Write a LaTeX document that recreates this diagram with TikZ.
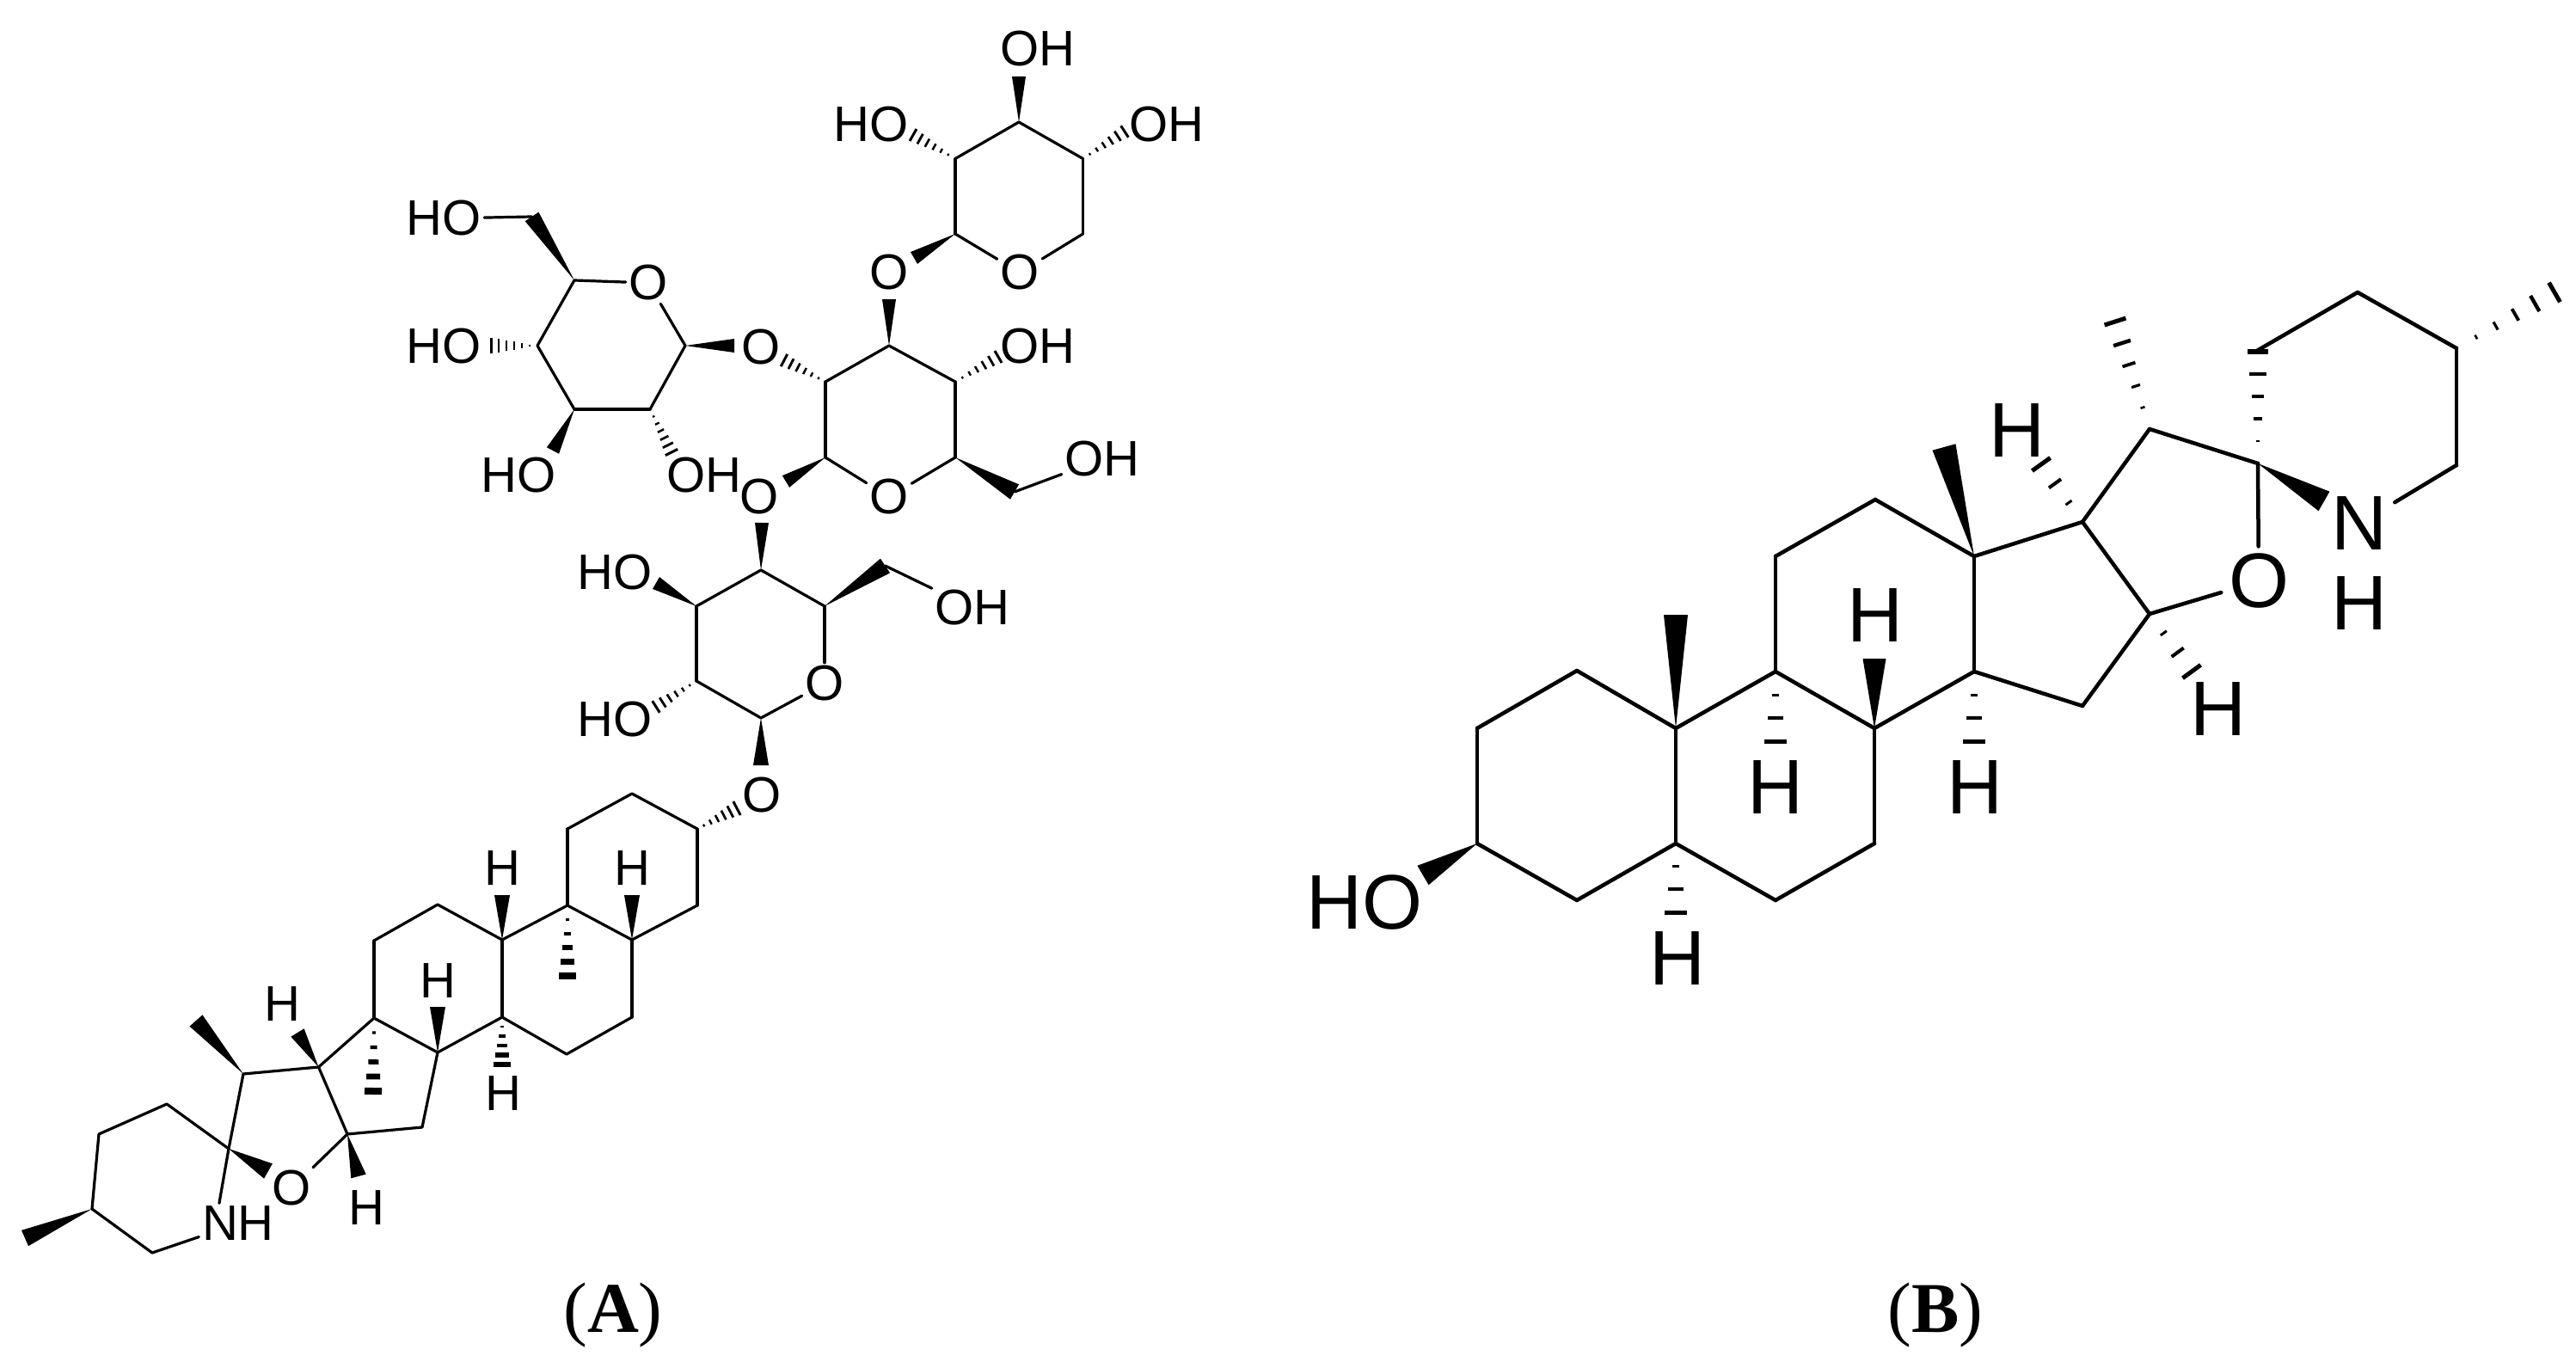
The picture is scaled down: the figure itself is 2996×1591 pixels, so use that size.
\documentclass[tikz,border=0pt]{standalone}
\usepackage{fontspec}
\setmainfont{Liberation Serif}
\newfontfamily\chemfont{Liberation Sans}
\usetikzlibrary{calc}

\begin{document}
\begin{tikzpicture}[
    x=0.01cm, y=-0.01cm,
    bondA/.style={draw=black, line width=0.032cm, line cap=round},
    bondB/.style={draw=black, line width=0.045cm, line cap=round},
    atomA/.style={font=\chemfont\fontsize{16.5}{18}\selectfont, inner sep=0.03cm},
    atomB/.style={font=\chemfont\fontsize{25.6}{28}\selectfont, inner sep=0.08cm},
    panel/.style={font=\fontsize{23.6}{26}\selectfont}
]

\fill[white] (0,0) rectangle (2996,1591);
\useasboundingbox (0,0) rectangle (2996,1591);

\foreach \nm/\x/\y in {
  xC1/1111/272, xC2/1111/184.5, xC3/1185/142, xC4/1259.5/184.5, xC5/1259.5/272,
  xE1/1185/89, xE2/1062/157, xE3/1308/153, xE4/1063/300,
  mC1/960/532, mC2/960/444, mC3/1034/402, mC4/1111/444, mC5/1111/532, mC6/1180/572,
  mE1/1034/348, mE2/912/419, mE3/1161/415, mE4/914/560,
  lC1/797/402, lC2/756/476, lC3/668/476, lC4/625/402, lC5/668/326, lC6/618.6/252,
  lE1/854/402, lE2/781/526, lE3/643/524, lE4/571/402,
  tC1/885/835, tC2/810/792, tC3/810/705, tC4/885/663, tC5/959/705, tC6/1029.5/658,
  tE1/885/890, tE2/763/822, tE3/763/678, tE4/886/608,
  aC1/660/964, aC2/735/923, aC3/811/964, aC4/811/1053, aC5/735/1093, aC6/735/1183,
  aC7/659/1226, aC8/584/1183, aC9/584/1093, aC10/660/1053, aC11/509/1052, aC12/435/1094,
  aC13/435/1184, aC14/509/1224, aC15/491/1311, aC16/404/1319, aC17/370.5/1241,
  aC20/283/1249, aC22/266/1336, aC23/194/1284, aC24/115/1319, aC25/107/1406, aC26/177/1457,
  aE1/857/940, aE2/735/1041, aE3/584/1041, aE4/660/1135, aE5/584/1238, aE6/434/1269,
  aE7/509/1171, aE8/346/1201, aE9/228/1187, aE10/312/1362, aE11/417/1368, aE12/29/1440,
  bC1/1834/780, bC2/1718/847, bC3/1718/981, bC4/1834/1047, bC5/1949/981, bC6/2065/1047,
  bC7/2180/981, bC8/2180/847, bC9/2065/781, bC10/1949/847, bC11/2065/647, bC12/2181/581,
  bC13/2296/647, bC14/2296/781, bC15/2422/821, bC16/2500/714, bC17/2422/607,
  bC20/2500/499, bC22/2626/539, bC23/2623/409, bC24/2742/340, bC25/2857/405, bC26/2857/541,
  bE1/1655/1018, bE2/1949/715, bE3/1949/1061, bE4/2065/862, bE5/2180/766, bE6/2296/862,
  bE7/2261/520, bE8/2374/540, bE9/2460/374, bE10/2626/409, bE11/2703/583, bE12/2549/781,
  bE13/2971/340}{
  \coordinate (\nm) at (\x,\y);
}

\foreach \nm/\x/\y/\lab in {
  xO/1186/317/O, xO2/1207/57/OH, xO3/1013/145/HO, xO4/1357/145/OH, xO1/1034/317/O,
  mO/1034/578/O, mO1/885/404/O, mO2/1207/403/OH, mO3/883/578/O, mO4/1282/534/OH,
  lO/754/329/O, lO1/516/254/HO, lO2/516/403/HO, lO3/603/553/HO, lO4/819/553/OH,
  tO/959/795/O, tO1/1131/707/OH, tO2/715/666/HO, tO3/715/837/HO, tO4/886/925/O,
  aH5/735/1010/H, aH9/584/1010/H, aH14/509/1141/H, aH8/585/1272/H, aH17/328/1168/H,
  aH16/426/1405/H, aO/339/1382/O, aNH/277/1423/NH}{
  \node[atomA] (\nm) at (\x,\y) {\lab};
}

\foreach \nm/\x/\y/\lab in {
  bHO/1587/1050/HO, bH5/1951/1115/H, bH9/2065/916/H, bH8/2181/716/H, bH14/2297/916/H,
  bH17/2346/501/H, bH16/2580/825/H, bO/2627/676/O, bN/2744/609/N, bNH/2744/702/H}{
  \node[atomB] (\nm) at (\x,\y) {\lab};
}

\foreach \ca/\cb in {
  xC1/xC2, xC2/xC3, xC3/xC4, xC4/xC5, xC5/xO, xC1/xO,
  mC1/mC2, mC2/mC3, mC3/mC4, mC4/mC5, mC5/mO, mC1/mO, mC6/mO4,
  lC1/lC2, lC2/lC3, lC3/lC4, lC4/lC5, lC5/lO, lC1/lO, lC6/lO1,
  tC1/tC2, tC2/tC3, tC3/tC4, tC4/tC5, tC5/tO, tC1/tO, tC6/tO1,
  aC1/aC2, aC2/aC3, aC3/aC4, aC4/aC5, aC5/aC10, aC10/aC1, aC5/aC6, aC6/aC7, aC7/aC8,
  aC8/aC9, aC9/aC10, aC9/aC11, aC11/aC12, aC12/aC13, aC13/aC14, aC14/aC8, aC13/aC17,
  aC17/aC16, aC16/aC15, aC15/aC14, aC17/aC20, aC20/aC22, aC22/aC23, aC23/aC24,
  aC24/aC25, aC25/aC26, aC26/aNH, aC22/aNH.133, aC16/aO}{
  \draw[bondA] (\ca) -- (\cb);
}

\foreach \ca/\cb in {
  bC1/bC2, bC2/bC3, bC3/bC4, bC4/bC5, bC5/bC10, bC10/bC1, bC5/bC6, bC6/bC7, bC7/bC8,
  bC8/bC9, bC9/bC10, bC9/bC11, bC11/bC12, bC12/bC13, bC13/bC14, bC14/bC8, bC13/bC17,
  bC17/bC16, bC16/bC15, bC15/bC14, bC17/bC20, bC20/bC22, bC24/bC23, bC24/bC25,
  bC25/bC26, bC26/bN, bC22/bO, bC16/bO}{
  \draw[bondB] (\ca) -- (\cb);
}

\foreach \ca/\cb/\w in {
  xC3/xE1/.08, xC1/xE4/.08, mC3/mE1/.08, mC5/mC6/.1, mC1/mE4/.08,
  lC5/lC6/.095, lC1/lE1/.08, lC3/lE3/.08,
  tC4/tE4/.08, tC5/tC6/.1, tC3/tE3/.08, tC1/tE1/.09,
  aC5/aE2/.09, aC9/aE3/.09, aC14/aE7/.09, aC17/aE8/.09, aC20/aE9/.1,
  aC22/aE10/.1, aC16/aE11/.09, aC25/aE12/.1,
  bC3/bE1/.13, bC10/bE2/.14, bC8/bE5/.135, bC13/bE7/.14, bC22/bE11/.13}{
  \fill[black] (\ca) -- ($(\cb)!\w cm!90:(\ca)$) -- ($(\cb)!\w cm!-90:(\ca)$) -- cycle;
}

\foreach \ca/\cb/\w/\n/\g in {
  xC2/xE2/.08/6/.01, xC4/xE3/.08/6/.01, mC4/mE3/.08/6/.01, mC2/mE2/.08/6/.01,
  lC4/lE4/.09/6/.01, lC2/lE2/.08/6/.01, tC2/tE2/.08/6/.01, aC3/aE1/.09/6/.01,
  aC10/aE4/.1/5/.06, aC8/aE5/.1/5/.04, aC13/aE6/.1/5/.06,
  bC5/bE3/.13/3/.03, bC9/bE4/.13/3/.03, bC14/bE6/.13/3/.03, bC17/bE8/.13/3/.03,
  bC20/bE9/.13/5/.03, bC22/bE10/.12/5/.03, bC16/bE12/.13/3/.03, bC25/bE13/.13/5/.03}{
  \foreach \k in {1,...,\n}{
    \pgfmathsetmacro\s{\k/\n}
    \pgfmathsetmacro\hw{\w*\s}
    \pgfmathsetmacro\lw{0.02+\g*\s}
    \draw[line width=\lw cm] ($(\ca)!\s!(\cb)!\hw cm!90:(\ca)$) -- ($(\ca)!\s!(\cb)!\hw cm!-90:(\ca)$);
  }
}

\node[panel] (panelA) at (713,1530) {(\textbf{A})};
\node[panel] (panelB) at (2251,1530) {(\textbf{B})};

\end{tikzpicture}
\end{document}
